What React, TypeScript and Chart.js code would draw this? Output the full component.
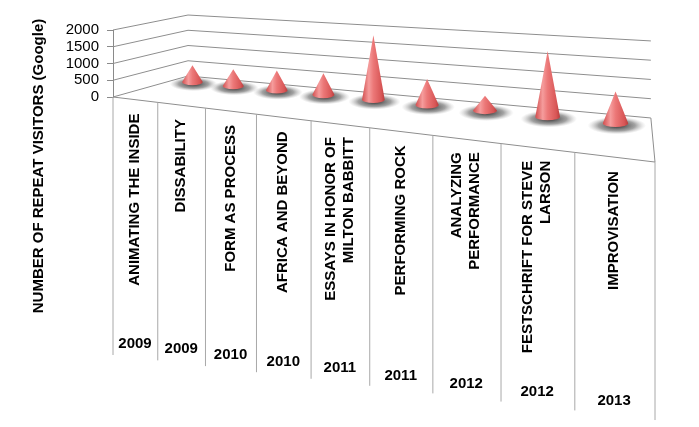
import React, { useEffect, useRef } from 'react';
import { Chart, registerables, CategoryScale, layouts } from 'chart.js';

// ---------------- data ----------------
const categories: (string | string[])[] = [
  'ANIMATING THE INSIDE',
  'DISSABILITY',
  'FORM AS PROCESS',
  'AFRICA AND BEYOND',
  ['ESSAYS IN HONOR OF', 'MILTON BABBITT'],
  'PERFORMING ROCK',
  ['ANALYZING', 'PERFORMANCE'],
  ['FESTSCHRIFT FOR STEVE', 'LARSON'],
  'IMPROVISATION',
];
const years: string[] = ['2009', '2009', '2010', '2010', '2011', '2011', '2012', '2012', '2013'];
const repeatVisitors: number[] = [540, 520, 600, 640, 1870, 730, 410, 1750, 820];
const yTicks: number[] = [0, 500, 1000, 1500, 2000];
const yTitle = 'NUMBER OF REPEAT VISITORS (Google)';

// ---------------- pseudo-3D geometry (style constants) ----------------
const WARP = 0.72; // perspective foreshortening of the category axis
const K_FRONT = 0.12; // slope of the front floor edge
const BACK_DX = 75;
const BACK_DY = -21;
const BACK_W_RATIO = 0.854;
const K_BACK = 0.0907;
const CONE_DEPTH = 0.8;
const CONE_R = 11;
const CELL_DEPTH = 258;
const TOP_SPACE = 14;
const GRID_COLOR = '#8e8e8e';
const DIVIDER_COLOR = '#a8a8a8';

const warp = (d: number) => (WARP * d) / (1 + (WARP - 1) * d);

class PerspectiveScale extends CategoryScale {
  static id = 'perspective';
  getPixelForDecimal(decimal: number) {
    const self: any = this;
    return self._startPixel + warp(decimal) * self._length;
  }
  getPixelForTick(index: number) {
    const self: any = this;
    const px = super.getPixelForTick(index) as number;
    const tick = self.ticks && self.ticks[index];
    const lines = tick && Array.isArray(tick.label) ? tick.label.length : 1;
    const size = (self.options.ticks.font && self.options.ticks.font.size) || 12;
    return px - ((lines - 1) * size * 1.2) / 2;
  }
  _computeLabelArea() {
    return undefined;
  }
  _computeLabelItems(chartArea: any) {
    const self: any = this;
    const items = (CategoryScale.prototype as any)._computeLabelItems.call(this, chartArea);
    const L = self._startPixel;
    return items.map((item: any) => {
      const [x, y] = item.options.translation;
      return { ...item, options: { ...item.options, translation: [x, y + K_FRONT * (x - L)] } };
    });
  }
}

Chart.register(...registerables, PerspectiveScale as any);

const spacerPlugin = {
  id: 'topSpacer',
  beforeInit(chart: any) {
    const box: any = {
      position: 'top',
      weight: 0,
      fullSize: false,
      options: {},
      top: 0,
      left: 0,
      right: 0,
      bottom: 0,
      width: 0,
      height: 0,
      isHorizontal() {
        return true;
      },
      update(maxWidth: number) {
        this.width = maxWidth;
        this.height = TOP_SPACE;
      },
      draw() {},
    };
    layouts.addBox(chart, box);
  },
};

const scenePlugin = {
  id: 'scene3d',
  afterDatasetsDraw(chart: any) {
    const { ctx, chartArea, scales } = chart;
    const xs = scales.x;
    const ys = scales.y;
    const L = chartArea.left;
    const W = chartArea.right - chartArea.left;
    const WB = W * BACK_W_RATIO;
    const y0 = ys.getPixelForValue(0);
    const front = (t: number) => ({ x: L + W * t, y: y0 + K_FRONT * W * t });
    const back = (t: number) => ({ x: L + BACK_DX + WB * t, y: y0 + BACK_DY + K_BACK * WB * t });
    const sizeAt = (t: number, v: number) => (1 - v) * (1 + 0.26 * t) + v * (0.91 + 0.24 * t);
    const at = (t: number, v: number, value: number) => {
      const f = front(t);
      const b = back(t);
      const s = sizeAt(t, v);
      const h = (y0 - ys.getPixelForValue(value)) * s;
      return { x: f.x + (b.x - f.x) * v, y: f.y + (b.y - f.y) * v - h, s };
    };

    ctx.save();
    // walls' gridlines
    ctx.strokeStyle = GRID_COLOR;
    ctx.lineWidth = 1;
    for (const tick of ys.ticks) {
      const p0 = at(0, 0, tick.value);
      const p1 = at(0, 1, tick.value);
      const p2 = at(1, 1, tick.value);
      ctx.beginPath();
      ctx.moveTo(p0.x, p0.y);
      ctx.lineTo(p1.x, p1.y);
      ctx.lineTo(p2.x, p2.y);
      ctx.stroke();
    }
    // floor right edge and front edge
    const br = at(1, 1, 0);
    const fr = at(1, 0, 0);
    const fl = at(0, 0, 0);
    ctx.beginPath();
    ctx.moveTo(br.x, br.y);
    ctx.lineTo(fr.x, fr.y);
    ctx.lineTo(fl.x, fl.y);
    ctx.stroke();

    // label-table dividers
    ctx.strokeStyle = DIVIDER_COLOR;
    const n = xs.getLabels().length;
    for (let i = 0; i <= n; i++) {
      const x = xs.getPixelForDecimal(i / n);
      const top = y0 + K_FRONT * (x - L);
      ctx.beginPath();
      ctx.moveTo(x, top);
      ctx.lineTo(x, top + CELL_DEPTH);
      ctx.stroke();
    }

    // cones
    const values: number[] = chart.data.datasets[0].data;
    values.forEach((val, i) => {
      const t = (xs.getPixelForValue(i) - L) / W;
      const base = at(t, CONE_DEPTH, 0);
      const tip = at(t, CONE_DEPTH, val);
      const rx = CONE_R * base.s;
      const ry = rx * 0.3;
      const cx = base.x;
      const cy = base.y;

      // shadow
      ctx.save();
      ctx.translate(cx + rx * 0.1, cy + ry * 0.6);
      ctx.scale(1, 0.3);
      const sr = rx * 2.3;
      const sg = ctx.createRadialGradient(0, 0, rx * 0.4, 0, 0, sr);
      sg.addColorStop(0, 'rgba(60,60,60,0.9)');
      sg.addColorStop(0.55, 'rgba(100,100,100,0.6)');
      sg.addColorStop(1, 'rgba(170,170,170,0)');
      ctx.fillStyle = sg;
      ctx.beginPath();
      ctx.arc(0, 0, sr, 0, Math.PI * 2);
      ctx.fill();
      ctx.restore();

      // body
      const lg = ctx.createLinearGradient(cx - rx, 0, cx + rx, 0);
      lg.addColorStop(0, '#d24e4e');
      lg.addColorStop(0.3, '#f59c9c');
      lg.addColorStop(0.5, '#ec7878');
      lg.addColorStop(0.85, '#d85656');
      lg.addColorStop(1, '#b83c3c');
      ctx.fillStyle = lg;
      ctx.beginPath();
      ctx.moveTo(cx - rx, cy);
      ctx.lineTo(tip.x, tip.y);
      ctx.lineTo(cx + rx, cy);
      ctx.ellipse(cx, cy, rx, ry, 0, 0, Math.PI);
      ctx.closePath();
      ctx.fill();
    });
    ctx.restore();
  },
};

export default function App() {
  const ref = useRef<HTMLCanvasElement>(null);
  useEffect(() => {
    Chart.defaults.font.family = "'Liberation Sans', Arial, sans-serif";
    Chart.defaults.color = '#000';
    const chart = new Chart(ref.current as HTMLCanvasElement, {
      type: 'bar',
      data: {
        labels: categories as any,
        datasets: [
          {
            label: 'Repeat visitors',
            data: repeatVisitors,
            backgroundColor: 'rgba(0,0,0,0)',
            borderWidth: 0,
          },
        ],
      },
      options: {
        animation: false,
        responsive: true,
        maintainAspectRatio: false,
        events: [],
        layout: { padding: { top: 16, right: 44, bottom: 111, left: 0 } },
        plugins: {
          legend: { display: false },
          tooltip: { enabled: false },
          title: {
            display: true,
            text: yTitle,
            position: 'left',
            fullSize: true,
            color: '#000',
            font: { size: 15, weight: 'bold' },
            padding: { top: 30, bottom: 5 },
          },
        },
        scales: {
          x: {
            type: 'perspective' as any,
            offset: true,
            position: 'bottom',
            grid: { display: false, drawTicks: false },
            border: { display: false },
            ticks: {
              autoSkip: false,
              minRotation: 90,
              maxRotation: 90,
              padding: 15,
              color: '#000',
              font: { size: 15, weight: 'bold' },
            },
            afterFit: (s: any) => {
              s.height = 205;
            },
          } as any,
          x2: {
            type: 'perspective' as any,
            labels: years,
            offset: true,
            position: 'bottom',
            weight: 1,
            grid: { display: false, drawTicks: false },
            border: { display: false },
            ticks: {
              autoSkip: false,
              minRotation: 0,
              maxRotation: 0,
              padding: 30,
              color: '#000',
              font: { size: 15, weight: 'bold' },
            },
            afterFit: (s: any) => {
              s.height = 14;
            },
          } as any,
          y: {
            type: 'linear',
            position: 'left',
            min: 0,
            max: 2000,
            afterBuildTicks: (s: any) => {
              s.ticks = yTicks.map((v) => ({ value: v }));
            },
            afterFit: (s: any) => {
              s.width = 60;
            },
            grid: { display: true, drawOnChartArea: false, drawTicks: true, tickLength: 6, color: '#8a8a8a' },
            border: { display: true, color: '#8a8a8a' },
            ticks: {
              autoSkip: false,
              padding: 8,
              color: '#000',
              font: { size: 15 },
              callback: (v: any) => String(v),
            },
          },
        },
      },
      plugins: [spacerPlugin, scenePlugin],
    } as any);
    return () => chart.destroy();
  }, []);
  return (
    <div style={{ position: 'fixed', left: 0, top: 0, width: 699, height: 427, background: '#fff' }}>
      <canvas ref={ref} />
    </div>
  );
}
